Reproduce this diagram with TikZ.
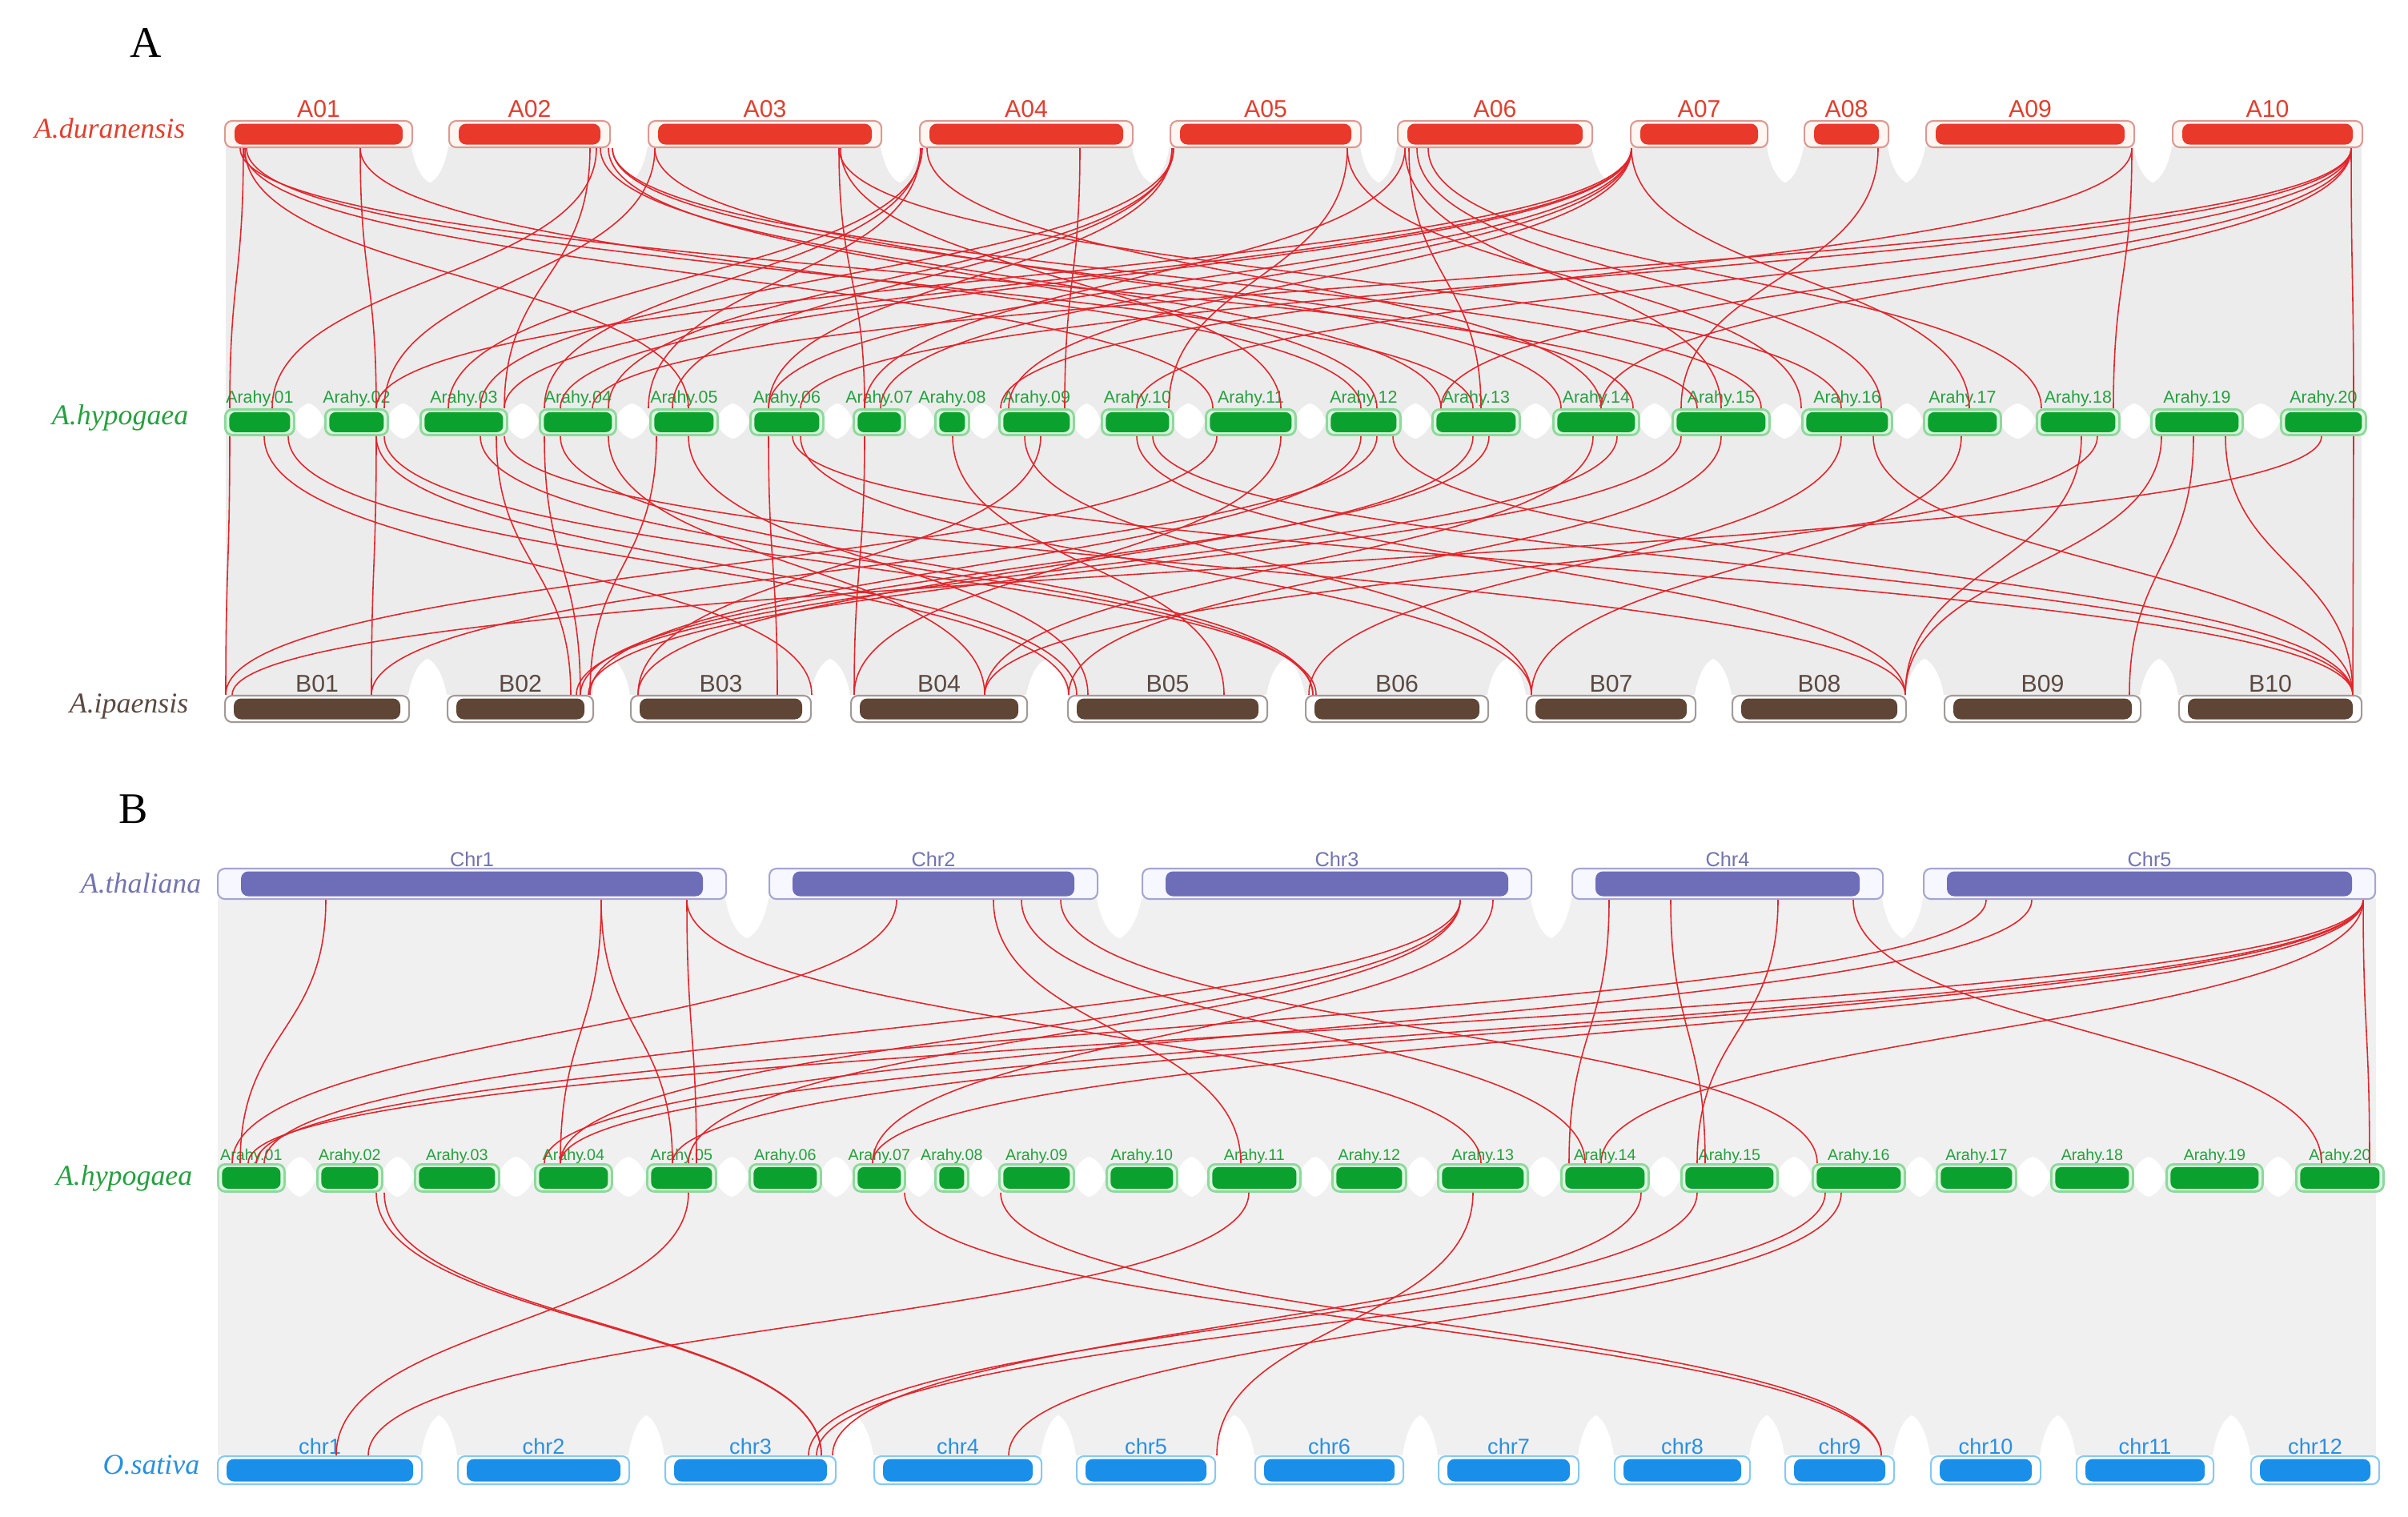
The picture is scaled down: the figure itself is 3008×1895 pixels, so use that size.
\documentclass[tikz,border=0pt]{standalone}
\usepackage{fontspec}
\setmainfont{Liberation Serif}
\setsansfont{Liberation Sans}
\usetikzlibrary{calc}
\definecolor{cAbar}{HTML}{E8392A}
\definecolor{cAedge}{HTML}{D99A94}
\definecolor{cAfill}{HTML}{FFF6F2}
\definecolor{cAlab}{HTML}{E0402F}
\definecolor{cGbar}{HTML}{0BA12E}
\definecolor{cGedge}{HTML}{8ED89C}
\definecolor{cGfill}{HTML}{D9F6DE}
\definecolor{cGlab}{HTML}{25A03E}
\definecolor{cBbar}{HTML}{5E4535}
\definecolor{cBedge}{HTML}{A09A98}
\definecolor{cBfill}{HTML}{FFFFFF}
\definecolor{cBlab}{HTML}{5A4A42}
\definecolor{cPbar}{HTML}{6E6DB8}
\definecolor{cPedge}{HTML}{A5A5D0}
\definecolor{cPfill}{HTML}{F7F7FF}
\definecolor{cPlab}{HTML}{7474AE}
\definecolor{cObar}{HTML}{1A8FEA}
\definecolor{cOedge}{HTML}{86C8F2}
\definecolor{cOfill}{HTML}{FFFFFF}
\definecolor{cOlab}{HTML}{2A90E0}
\definecolor{cLink}{HTML}{E0262C}
\definecolor{cBand}{HTML}{ECECEC}
\tikzset{
  Abox/.style={draw=cAedge, fill=cAfill, rounded corners=2.5pt, line width=0.6pt, inner sep=0pt},
  Abar/.style={fill=cAbar, rounded corners=2.6pt, inner sep=0pt},
  Alab/.style={text=cAlab, font=\sffamily\fontsize{8.6}{9}\selectfont, inner sep=0pt, anchor=base},
  Bbox/.style={draw=cBedge, fill=cBfill, rounded corners=2.5pt, line width=0.6pt, inner sep=0pt},
  Bbar/.style={fill=cBbar, rounded corners=2.6pt, inner sep=0pt},
  Blab/.style={text=cBlab, font=\sffamily\fontsize{8.6}{9}\selectfont, inner sep=0pt, anchor=base},
  Gbox/.style={draw=cGedge, fill=cGfill, rounded corners=2.5pt, line width=0.8pt, inner sep=0pt},
  Gbar/.style={fill=cGbar, rounded corners=2.2pt, inner sep=0pt},
  Glab/.style={text=cGlab, font=\sffamily\fontsize{6.1}{7}\selectfont, inner sep=0pt, anchor=base},
  Hlab/.style={text=cGlab, font=\sffamily\fontsize{5.6}{6}\selectfont, inner sep=0pt, anchor=base},
  Hbox/.style={Gbox}, Hbar/.style={Gbar},
  Pbox/.style={draw=cPedge, fill=cPfill, rounded corners=2.5pt, line width=0.6pt, inner sep=0pt},
  Pbar/.style={fill=cPbar, rounded corners=2.6pt, inner sep=0pt},
  Plab/.style={text=cPlab, font=\sffamily\fontsize{7.2}{8}\selectfont, inner sep=0pt, anchor=base},
  Obox/.style={draw=cOedge, fill=cOfill, rounded corners=2.5pt, line width=0.6pt, inner sep=0pt},
  Obar/.style={fill=cObar, rounded corners=2.6pt, inner sep=0pt},
  Olab/.style={text=cOlab, font=\sffamily\fontsize{7.7}{8}\selectfont, inner sep=0pt, anchor=base},
  species/.style={font=\itshape\fontsize{10.2}{11}\selectfont, inner sep=0pt, anchor=east},
  panel/.style={font=\fontsize{15.5}{16}\selectfont, inner sep=0pt},
  redlink/.style={draw=cLink, line width=0.45pt},
}
% name, x1, x2, y1, y2, style prefix, label, inset, label lift
\newcommand\chrom[9]{%
  \node[#6box, minimum width={(#3-#2)*0.01cm}, minimum height={(#5-#4)*0.01cm}, anchor=north west] (#1) at (#2,#4) {};
  \node[#6bar, minimum width={(#3-#2-2*#8)*0.01cm}, minimum height={(#5-#4-7)*0.01cm}] (#1b) at (#1.center) {};
  \node[#6lab] (#1t) at ($(#1.north)+(0,-#9)$) {#7};
}
\newcommand\lk[4]{%
  \path (#2,0 |- #1.south) coordinate (lkp) (#4,0 |- #3.north) coordinate (lkq);
  \path ($(lkp)!0.5!(lkq)$) coordinate (lkm);
  \draw[redlink] (lkp) .. controls (lkp|-lkm) and (lkq|-lkm) .. (lkq);
}
\newcommand\gapw[4]{% xL xR y depth
  \fill[white] ({#1},{#3}) .. controls ({#1+0.15*(#2-#1)},{#3+0.9*#4}) and ({(#1+#2)/2},{#3+#4}) .. ({(#1+#2)/2},{#3+#4})
     .. controls ({(#1+#2)/2},{#3+#4}) and ({#2-0.15*(#2-#1)},{#3+0.9*#4}) .. ({#2},{#3}) -- cycle;
}
\begin{document}
\begin{tikzpicture}[x=0.01cm,y=-0.01cm]
\useasboundingbox[fill=white] (0,0) rectangle (3008,1895);
% ---------- gray bands ----------
\fill[cBand] (282,183) rectangle (2950,868);
\foreach \a/\b in {514/560,761/809,1100/1148,1414/1461,1699/1745,1988/2036,2207/2253,2358/2405,2665/2713}{\gapw{\a}{\b}{183}{45}}
\foreach \a/\b in {366/405,483/524,632/673,768/811,895/936,1027/1065,1129/1167,1209/1247,1340/1375,1464/1505,1617/1656,1748/1788,1897/1939,2046/2088,2209/2250,2362/2402,2498/2543,2646/2686,2800/2848}{\gapw{\a}{\b}{526}{-22}\gapw{\a}{\b}{526}{22}}
\foreach \a/\b in {510/558,740/787,1012/1062,1282/1333,1582/1630,1858/1906,2117/2163,2380/2428,2673/2721}{\gapw{\a}{\b}{868}{-45}}
\fill[cBand!80!white] (272,1122) rectangle (2968,1818);
\foreach \a/\b in {906/960,1370/1426,1912/1963,2351/2402}{\gapw{\a}{\b}{1122}{50}}
\foreach \a/\b in {354/395,476/517,622/667,763/807,893/935,1024/1065,1129/1167,1208/1247,1340/1381,1469/1508,1623/1663,1755/1795,1907/1949,2058/2099,2219/2263,2378/2418,2517/2561,2663/2705,2825/2867}{\gapw{\a}{\b}{1470}{-25}\gapw{\a}{\b}{1470}{25}}
\foreach \a/\b in {526/571,785/830,1043/1091,1300/1344,1517/1567,1752/1796,1971/2016,2185/2229,2365/2411,2548/2593,2764/2811}{\gapw{\a}{\b}{1818}{-50}}
% ---------- panel labels ----------
\node[panel] (pA) at (182,54) {A};
\node[panel] (pB) at (167,1011) {B};
% ---------- species labels ----------
\node[species, text=cAlab] (sAd) at (232,160) {A.duranensis};
\node[species, text=cGlab] (sAh1) at (236,522) {A.hypogaea};
\node[species, text=cBlab] (sAi) at (236,882) {A.ipaensis};
\node[species, text=cPlab] (sAt) at (252,1103) {A.thaliana};
\node[species, text=cGlab] (sAh2) at (241,1472) {A.hypogaea};
\node[species, text=cOlab] (sOs) at (250,1830) {O.sativa};
% ---------- chromosomes panel A ----------
\foreach \n/\a/\b [count=\i] in {A01/280/514,A02/560/761,A03/809/1100,A04/1148/1414,A05/1461/1699,A06/1745/1988,A07/2036/2207,A08/2253/2358,A09/2405/2665,A10/2713/2950}{
  \chrom{a\i}{\a}{\b}{150}{183}{A}{\n}{12}{3}}
\foreach \n/\a/\b [count=\i] in {01/280/366,02/405/483,03/524/632,04/673/768,05/811/895,06/936/1027,07/1065/1129,08/1167/1209,09/1247/1340,10/1375/1464,11/1505/1617,12/1656/1748,13/1788/1897,14/1939/2046,15/2088/2209,16/2250/2362,17/2402/2498,18/2543/2646,19/2686/2800,20/2848/2954}{
  \chrom{h\i}{\a}{\b}{510}{542}{G}{Arahy.\n}{5}{6}}
\foreach \n/\a/\b [count=\i] in {B01/280/510,B02/558/740,B03/787/1012,B04/1062/1282,B05/1333/1582,B06/1630/1858,B07/1906/2117,B08/2163/2380,B09/2428/2673,B10/2721/2949}{
  \chrom{b\i}{\a}{\b}{868}{901}{B}{\n}{11}{3}}
% ---------- chromosomes panel B ----------
\foreach \n/\a/\b [count=\i] in {Chr1/271/906,Chr2/960/1370,Chr3/1426/1912,Chr4/1963/2351,Chr5/2402/2966}{
  \chrom{t\i}{\a}{\b}{1084}{1122}{P}{\n}{29}{1}}
\foreach \n/\a/\b [count=\i] in {01/271/354,02/395/476,03/517/622,04/667/763,05/807/893,06/935/1024,07/1065/1129,08/1167/1208,09/1247/1340,10/1381/1469,11/1508/1623,12/1663/1755,13/1795/1907,14/1949/2058,15/2099/2219,16/2263/2378,17/2418/2517,18/2561/2663,19/2705/2825,20/2867/2976}{
  \chrom{g\i}{\a}{\b}{1453}{1487}{H}{Arahy.\n}{5}{4}}
\foreach \n/\a/\b [count=\i] in {chr1/271/526,chr2/571/785,chr3/830/1043,chr4/1091/1300,chr5/1344/1517,chr6/1567/1752,chr7/1796/1971,chr8/2016/2185,chr9/2229/2365,chr10/2411/2548,chr11/2593/2764,chr12/2811/2971}{
  \chrom{o\i}{\a}{\b}{1818}{1853}{O}{\n}{11}{2}}
% ---------- links panel A, top ----------
\lk{a1}{304}{h1}{287} \lk{a1}{304}{h11}{1515} \lk{a1}{308}{h13}{1840} \lk{a1}{300}{h15}{2120} \lk{a1}{306}{h5}{860} \lk{a1}{450}{h2}{470} \lk{a1}{450}{h12}{1700}
\lk{a2}{737}{h3}{630} \lk{a2}{745}{h1}{340} \lk{a2}{750}{h13}{1800} \lk{a2}{760}{h12}{1720} \lk{a2}{765}{h14}{2040} \lk{a2}{765}{h15}{2200}
\lk{a3}{818}{h2}{480} \lk{a3}{818}{h14}{1950} \lk{a3}{1048}{h9}{1080} \lk{a3}{1050}{h11}{1600} \lk{a3}{1048}{h16}{2300}
\lk{a4}{1150}{h4}{680} \lk{a4}{1152}{h3}{560} \lk{a4}{1150}{h5}{810} \lk{a4}{1158}{h14}{2000} \lk{a4}{1349}{h9}{1330}
\lk{a5}{1464}{h5}{840} \lk{a5}{1464}{h6}{960} \lk{a5}{1466}{h4}{760} \lk{a5}{1466}{h3}{600} \lk{a5}{1683}{h10}{1460} \lk{a5}{1683}{h16}{2250}
\lk{a6}{1755}{h15}{2150} \lk{a6}{1770}{h16}{2350} \lk{a6}{1784}{h18}{2550} \lk{a6}{1755}{h7}{1080} \lk{a6}{1760}{h13}{1850}
\lk{a7}{2038}{h2}{470} \lk{a7}{2038}{h3}{630} \lk{a7}{2038}{h4}{700} \lk{a7}{2038}{h6}{960} \lk{a7}{2038}{h7}{1100} \lk{a7}{2038}{h9}{1260} \lk{a7}{2038}{h17}{2460}
\lk{a8}{2346}{h15}{2100}
\lk{a9}{2663}{h18}{2640} \lk{a9}{2663}{h9}{1250}
\lk{a10}{2937}{h20}{2940} \lk{a10}{2937}{h10}{1420} \lk{a10}{2937}{h13}{1800} \lk{a10}{2937}{h14}{2000} \lk{a10}{2937}{h6}{1000} \lk{a10}{2937}{h4}{740}
% ---------- links panel A, bottom ----------
\lk{h1}{287}{b1}{282} \lk{h1}{330}{b3}{1014} \lk{h1}{360}{b5}{1335} \lk{h2}{470}{b1}{464} \lk{h2}{480}{b6}{1644} \lk{h2}{470}{b5}{1345}
\lk{h3}{620}{b2}{713} \lk{h3}{630}{b8}{2380} \lk{h3}{600}{b6}{1640} \lk{h4}{680}{b2}{725} \lk{h4}{760}{b4}{1230} \lk{h4}{700}{b6}{1640}
\lk{h5}{820}{b2}{737} \lk{h5}{860}{b5}{1359} \lk{h6}{960}{b3}{971} \lk{h6}{1000}{b7}{1913}
\lk{h7}{1080}{b4}{1067} \lk{h8}{1190}{b5}{1529} \lk{h9}{1300}{b3}{797} \lk{h9}{1280}{b7}{1913} \lk{h10}{1420}{b8}{2380} \lk{h10}{1440}{b10}{2939}
\lk{h11}{1520}{b1}{282} \lk{h11}{1600}{b4}{1067} \lk{h12}{1700}{b2}{737} \lk{h12}{1720}{b1}{464} \lk{h13}{1840}{b3}{797} \lk{h13}{1860}{b2}{725} \lk{h15}{2100}{b2}{735}
\lk{h14}{1990}{b4}{1230} \lk{h14}{2020}{b2}{720} \lk{h15}{2150}{b5}{1335} \lk{h16}{2300}{b6}{1635} \lk{h16}{2340}{b10}{2939} \lk{h17}{2450}{b7}{1913}
\lk{h18}{2600}{b8}{2380} \lk{h18}{2620}{b4}{1230} \lk{h19}{2700}{b8}{2380} \lk{h19}{2740}{b9}{2660} \lk{h20}{2940}{b10}{2939} \lk{h20}{2900}{b1}{290}
\lk{h19}{2780}{b10}{2939} \lk{h12}{1740}{b10}{2939} \lk{h6}{990}{b10}{2939}
% ---------- links panel B, top ----------
\lk{t1}{407}{g1}{300} \lk{t1}{751}{g4}{700} \lk{t1}{751}{g5}{840} \lk{t1}{858}{g5}{870} \lk{t1}{858}{g13}{1850}
\lk{t2}{1120}{g1}{290} \lk{t2}{1241}{g11}{1550} \lk{t2}{1276}{g14}{1980} \lk{t2}{1325}{g16}{2270}
\lk{t3}{1824}{g4}{700} \lk{t3}{1824}{g5}{860} \lk{t3}{1865}{g7}{1090} \lk{t3}{1824}{g1}{330}
\lk{t4}{2010}{g14}{1960} \lk{t4}{2087}{g15}{2130} \lk{t4}{2221}{g15}{2120} \lk{t4}{2315}{g20}{2900}
\lk{t5}{2481}{g1}{320} \lk{t5}{2538}{g4}{680} \lk{t5}{2952}{g1}{310} \lk{t5}{2952}{g4}{700} \lk{t5}{2952}{g5}{840} \lk{t5}{2952}{g7}{1090} \lk{t5}{2952}{g14}{2000} \lk{t5}{2952}{g20}{2960}
% ---------- links panel B, bottom ----------
\lk{g2}{470}{o3}{1026} \lk{g2}{480}{o3}{1026} \lk{g5}{860}{o1}{420} \lk{g11}{1560}{o1}{460}
\lk{g15}{2120}{o3}{1010} \lk{g14}{2050}{o3}{1040} \lk{g13}{1840}{o5}{1520} \lk{g9}{1250}{o9}{2350}
\lk{g7}{1130}{o9}{2350} \lk{g16}{2300}{o4}{1260} \lk{g16}{2280}{o3}{1020}
\end{tikzpicture}
\end{document}
